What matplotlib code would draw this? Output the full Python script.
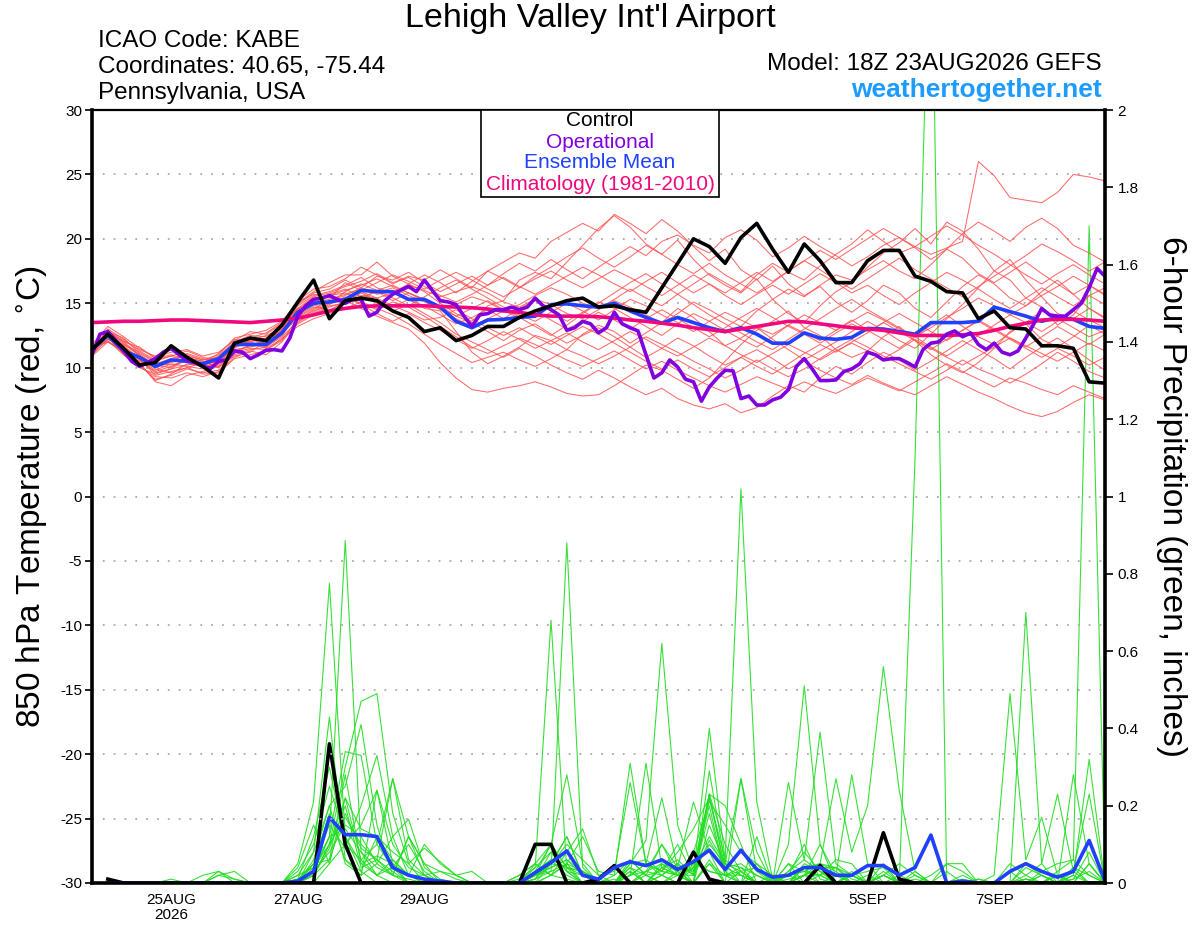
import numpy as np
import pandas as pd
import matplotlib
matplotlib.use('Agg')
import matplotlib.pyplot as plt
import matplotlib.patches as mpatches

plt.rcParams['font.family'] = ['Liberation Sans', 'DejaVu Sans']

# ---------------- data ----------------
init_time = '2026-08-23 18:00'
temp_hours = list(range(0, 385, 6))
oper_hours = list(range(0, 385, 3))
precip_hours = list(range(6, 385, 6))

control_temp = [11.4, 12.6, 11.5, 10.2, 10.4, 11.7, 10.8, 10.1, 9.2, 11.9, 12.3, 12.1, 13.3, 15.1, 16.8, 13.8, 15.2,
                15.4, 15.2, 14.4, 13.9, 12.8, 13.1, 12.1, 12.5, 13.2, 13.2, 13.9, 14.4, 14.8, 15.2, 15.4, 14.7,
                14.8, 14.5, 14.3, 16.2, 18.1, 20.0, 19.4, 18.1, 20.1, 21.2, 19.2, 17.4, 19.6, 18.3, 16.6, 16.6,
                18.3, 19.1, 19.1, 17.1, 16.7, 15.9, 15.8, 13.8, 14.4, 13.1, 13.0, 11.7, 11.7, 11.5, 8.9, 8.8]

mean_temp = [11.4, 12.5, 11.3, 10.8, 10.1, 10.6, 10.5, 10.3, 10.7, 11.8, 11.8, 11.8, 12.7, 14.3, 15.0, 15.1, 15.3,
             16.0, 15.9, 15.9, 15.3, 15.3, 14.7, 13.6, 13.1, 13.7, 13.75, 13.9, 14.0, 14.9, 14.95, 14.8, 14.7,
             15.0, 14.4, 13.9, 13.45, 13.9, 13.5, 13.1, 12.8, 13.1, 12.6, 11.9, 11.9, 12.7, 12.3, 12.2, 12.35,
             13.05, 13.0, 12.8, 12.6, 13.5, 13.5, 13.5, 13.6, 14.7, 14.35, 14.0, 13.6, 13.9, 13.75, 13.2, 13.05]

clim_temp = [13.5, 13.55, 13.6, 13.6, 13.65, 13.7, 13.7, 13.65, 13.6, 13.55, 13.5, 13.6, 13.7, 13.85, 14.1, 14.4, 14.6,
             14.75, 14.8, 14.8, 14.8, 14.8, 14.75, 14.7, 14.65, 14.55, 14.4, 14.3, 14.1, 14.0, 14.0, 14.0, 13.95,
             13.85, 13.7, 13.6, 13.45, 13.3, 13.1, 12.95, 12.8, 13.0, 13.2, 13.4, 13.6, 13.55, 13.4, 13.25, 13.1,
             13.0, 12.9, 12.7, 12.5, 12.5, 12.5, 12.55, 12.65, 12.9, 13.2, 13.45, 13.7, 13.75, 13.75, 13.7, 13.6]

oper_temp = [11.0, 12.6, 12.8, 12.1, 11.3, 10.5, 10.1, 10.4, 10.7, 11.2, 11.5, 11.0, 10.6, 10.4, 10.1, 9.95,
             10.5, 10.6, 11.3, 11.2, 10.7, 11.0, 11.35, 11.4, 11.3, 12.3, 14.0, 14.8, 15.3, 15.4, 15.6, 15.3,
             15.0, 15.3, 15.3, 14.0, 14.3, 15.2, 15.7, 16.0, 16.3, 15.9, 16.8, 16.0, 15.2, 15.1, 14.9, 14.0,
             13.2, 14.1, 14.2, 14.5, 14.5, 14.7, 14.5, 14.7, 15.4, 14.8, 14.5, 14.1, 12.9, 13.1, 13.6, 13.4,
             12.7, 13.1, 14.3, 13.4, 13.1, 12.85, 11.0, 9.2, 9.6, 10.6, 10.05, 9.1, 8.9, 7.4, 8.5, 9.2,
             9.8, 9.75, 7.6, 7.8, 7.1, 7.1, 7.5, 7.7, 8.3, 10.1, 10.7, 9.9, 9.0, 9.0, 9.05, 9.7,
             9.9, 10.3, 11.2, 11.0, 10.6, 10.7, 10.7, 10.4, 10.05, 11.4, 11.9, 12.0, 12.6, 12.85, 12.4, 12.7,
             11.8, 11.4, 11.9, 11.2, 11.0, 11.3, 12.3, 13.4, 14.6, 14.1, 14.0, 14.0, 14.5, 15.0, 16.2, 17.7,
             17.1]

# ensemble members, 850 hPa temperature
t_m01 = [11.2, 12.9, 12.0, 11.0, 10.2, 10.0, 10.8, 10.5, 10.0, 11.5, 12.2, 12.0, 13.0, 14.8, 15.6, 15.9, 16.4,
         17.0, 16.2, 15.8, 16.5, 15.9, 15.0, 14.2, 13.6, 14.8, 15.2, 16.8, 17.4, 16.9, 18.2, 19.5, 20.8,
         21.8, 20.9, 19.6, 18.8, 19.9, 18.4, 17.2, 16.4, 15.8, 16.9, 15.3, 14.2, 13.5, 14.8, 15.9, 16.6,
         17.8, 18.9, 19.7, 20.8, 19.6, 21.3, 20.6, 19.2, 17.5, 18.4, 16.8, 15.5, 14.2, 13.8, 14.6, 13.9]
t_m02 = [11.0, 12.2, 11.6, 10.2, 9.1, 9.4, 9.9, 9.6, 9.8, 11.0, 11.4, 11.6, 12.4, 13.6, 14.2, 14.8, 15.0,
         15.6, 15.4, 15.8, 15.3, 14.6, 14.4, 12.8, 11.2, 10.3, 10.9, 11.6, 12.5, 12.1, 11.4, 12.6, 13.3,
         12.8, 11.9, 12.7, 13.5, 14.6, 13.9, 12.8, 11.7, 12.3, 13.1, 12.2, 11.4, 10.6, 11.3, 12.0, 12.8,
         13.6, 12.9, 12.1, 11.5, 12.6, 13.8, 14.9, 16.2, 17.5, 16.8, 15.4, 14.7, 13.3, 14.1, 15.6, 16.2]
t_m03 = [11.5, 12.0, 11.3, 10.4, 8.9, 8.6, 9.4, 9.7, 10.1, 10.9, 11.2, 12.1, 13.2, 14.6, 14.9, 14.4, 15.2,
         14.6, 14.0, 13.5, 13.0, 11.9, 10.4, 9.2, 8.3, 8.1, 8.4, 8.6, 8.9, 8.5, 8.0, 7.8, 7.9,
         8.6, 9.4, 10.2, 9.8, 9.1, 8.4, 9.2, 10.5, 11.8, 12.9, 13.6, 14.4, 13.1, 12.5, 11.4, 10.8,
         11.3, 12.4, 13.2, 12.1, 11.0, 10.2, 9.6, 10.4, 11.5, 12.8, 13.4, 12.2, 11.6, 12.4, 13.3, 12.6]
t_m04 = [11.8, 13.2, 12.4, 11.5, 10.8, 11.2, 11.4, 10.9, 11.2, 12.1, 12.8, 12.6, 13.4, 15.2, 16.1, 16.3, 16.9,
         17.8, 17.2, 16.5, 17.1, 16.8, 17.6, 16.9, 16.2, 17.5, 18.2, 18.9, 18.5, 19.8, 20.5, 21.2, 20.6,
         21.9, 21.2, 20.4, 21.5, 20.6, 19.4, 18.3, 19.2, 17.6, 16.8, 17.9, 16.5, 15.6, 16.3, 15.1, 14.3,
         15.2, 16.4, 15.8, 14.6, 13.9, 15.1, 16.3, 17.2, 16.5, 15.4, 14.8, 15.9, 16.8, 15.7, 14.6, 13.8]
t_m05 = [11.3, 12.6, 11.8, 11.2, 10.5, 10.9, 11.3, 10.8, 10.6, 11.9, 12.0, 12.3, 13.1, 14.5, 15.4, 15.6, 16.0,
         16.4, 16.9, 16.3, 15.8, 15.2, 14.6, 14.9, 15.5, 15.1, 14.4, 14.9, 15.6, 16.2, 15.7, 15.0, 14.6,
         15.3, 16.1, 15.4, 14.8, 15.7, 16.5, 17.3, 16.6, 15.9, 17.2, 18.1, 17.4, 16.8, 17.9, 18.8, 19.6,
         20.7, 19.8, 18.9, 19.4, 18.8, 19.3, 19.8, 26.0, 24.9, 23.2, 23.0, 22.8, 23.6, 25.0, 24.8, 24.5]
t_m06 = [11.0, 12.4, 11.5, 10.6, 9.8, 10.3, 10.1, 9.9, 10.4, 11.4, 11.6, 11.9, 12.6, 13.9, 14.6, 15.2, 15.6,
         16.2, 15.7, 15.9, 16.4, 16.0, 15.5, 15.9, 16.3, 15.8, 15.1, 14.7, 15.3, 14.9, 14.2, 13.8, 14.5,
         15.2, 14.7, 14.1, 13.4, 14.2, 15.1, 14.5, 13.8, 13.2, 14.4, 15.3, 16.1, 15.5, 16.4, 17.2, 16.8,
         17.6, 18.3, 17.5, 16.9, 18.0, 19.2, 20.4, 21.3, 20.6, 19.8, 20.9, 21.6, 20.8, 19.5, 18.9, 18.2]
t_m07 = [11.6, 12.1, 11.0, 10.0, 9.5, 9.9, 10.2, 10.4, 10.9, 12.0, 11.9, 11.5, 12.2, 13.4, 14.1, 14.7, 15.1,
         15.5, 15.0, 14.4, 14.9, 14.2, 13.5, 12.6, 12.0, 11.4, 10.8, 11.5, 10.9, 10.2, 9.6, 9.1, 9.8,
         9.2, 8.5, 7.9, 8.4, 7.6, 7.1, 6.8, 7.2, 6.5, 6.9, 7.8, 8.6, 8.1, 9.2, 10.1, 9.5,
         10.4, 11.2, 10.6, 9.8, 10.5, 11.3, 12.1, 11.4, 10.7, 9.9, 10.8, 11.6, 12.3, 11.5, 10.6, 9.8]
t_m08 = [11.1, 12.7, 11.9, 10.9, 10.0, 10.4, 10.7, 10.2, 10.5, 11.6, 12.2, 11.8, 12.9, 14.1, 14.8, 15.6, 15.8,
         15.3, 16.0, 16.4, 15.8, 15.3, 14.8, 14.0, 13.5, 12.8, 12.1, 12.9, 13.4, 12.6, 11.9, 12.5, 13.1,
         12.4, 11.6, 10.8, 11.5, 12.3, 11.7, 10.9, 10.2, 10.8, 11.4, 10.7, 9.9, 10.5, 9.8, 9.2, 8.7,
         9.4, 8.8, 8.3, 7.9, 8.6, 9.3, 8.7, 8.1, 7.6, 7.0, 6.5, 6.2, 6.6, 7.3, 7.9, 7.5]
t_m09 = [11.4, 13.0, 12.2, 11.3, 10.6, 10.9, 10.4, 10.1, 10.8, 12.0, 12.5, 12.4, 13.2, 14.9, 15.8, 16.1, 16.8,
         16.2, 17.1, 16.8, 17.4, 16.6, 15.9, 16.5, 17.1, 16.4, 17.3, 18.1, 17.5, 18.4, 17.6, 16.9, 17.8,
         18.6, 19.4, 18.7, 19.8, 20.3, 19.5, 18.9, 20.1, 20.7, 19.9, 18.6, 19.3, 20.2, 19.4, 18.7, 17.9,
         18.6, 19.5, 20.1, 19.3, 18.4, 19.2, 18.5, 17.3, 16.6, 17.4, 18.2, 17.3, 16.5, 15.7, 16.4, 15.6]
t_m10 = [11.7, 12.3, 11.1, 10.5, 9.7, 10.1, 10.6, 10.0, 10.2, 11.3, 11.7, 12.2, 12.8, 14.0, 14.7, 14.5, 15.0,
         15.8, 15.2, 14.7, 15.3, 14.8, 14.1, 13.4, 13.9, 14.5, 13.8, 14.6, 15.2, 14.4, 13.6, 14.3, 15.1,
         14.6, 13.9, 13.2, 12.5, 13.4, 14.2, 13.6, 12.9, 12.2, 11.6, 12.4, 13.3, 12.7, 12.1, 12.9, 13.7,
         12.9, 12.2, 11.5, 12.4, 13.3, 14.1, 13.2, 12.4, 11.8, 12.7, 13.5, 14.4, 13.8, 13.1, 12.4, 12.9]
t_m11 = [11.2, 12.5, 11.7, 10.7, 9.4, 9.7, 10.0, 9.5, 9.6, 10.7, 11.0, 11.3, 12.3, 13.2, 13.8, 14.2, 14.6,
         15.1, 14.6, 14.1, 13.4, 12.6, 11.8, 11.1, 10.4, 10.8, 11.2, 10.6, 10.1, 10.7, 11.4, 10.9, 10.3,
         10.9, 11.6, 12.4, 11.8, 11.2, 10.5, 9.9, 9.2, 9.8, 10.6, 9.9, 9.3, 9.9, 10.7, 11.5, 12.2,
         11.6, 10.9, 10.3, 9.7, 9.1, 9.8, 10.6, 9.9, 9.4, 8.8, 9.5, 10.3, 11.2, 10.5, 9.7, 9.2]
t_m12 = [11.5, 12.8, 12.1, 11.4, 10.9, 11.4, 11.0, 10.6, 11.0, 12.3, 12.6, 12.9, 13.6, 15.0, 15.9, 16.6, 17.2,
         17.2, 18.2, 17.1, 16.5, 17.2, 16.6, 15.8, 16.7, 17.5, 16.9, 16.2, 17.1, 17.8, 18.6, 19.3, 18.5,
         17.8, 18.6, 19.5, 18.8, 18.0, 17.3, 18.1, 17.2, 16.5, 15.8, 16.6, 17.5, 18.3, 17.6, 16.8, 16.1,
         16.9, 17.7, 18.5, 17.6, 16.9, 16.2, 15.5, 16.3, 17.1, 17.9, 18.7, 19.6, 19.0, 18.3, 17.5, 18.2]
t_m13 = [11.3, 12.6, 11.4, 10.9, 10.3, 10.7, 10.9, 10.6, 10.8, 11.7, 11.9, 11.7, 12.5, 14.2, 15.1, 15.3, 15.7,
         16.1, 15.8, 16.2, 15.6, 15.1, 14.5, 13.8, 13.2, 13.8, 14.4, 14.1, 13.6, 14.3, 15.0, 14.4, 13.7,
         14.5, 15.3, 14.8, 14.1, 13.5, 12.8, 13.6, 14.3, 13.7, 13.1, 12.6, 13.3, 14.1, 13.5, 12.9, 13.6,
         14.3, 13.7, 13.0, 12.4, 13.1, 13.9, 14.6, 15.4, 14.8, 14.1, 13.5, 12.8, 13.6, 14.4, 13.7, 13.1]
t_m14 = [10.9, 12.0, 11.2, 10.1, 9.3, 9.2, 9.6, 9.3, 9.7, 10.8, 11.3, 11.0, 12.0, 13.5, 14.3, 15.0, 15.4,
         15.0, 14.5, 15.1, 14.7, 14.0, 13.2, 12.4, 11.6, 11.1, 11.7, 12.3, 11.8, 11.2, 10.6, 10.1, 10.7,
         11.3, 10.6, 9.9, 10.5, 9.8, 9.2, 8.6, 8.1, 8.7, 9.3, 8.8, 8.3, 8.9, 8.4, 8.0, 8.6,
         9.2, 8.7, 8.2, 8.9, 9.6, 10.3, 9.7, 9.1, 8.5, 9.2, 8.8, 8.3, 7.9, 8.6, 8.1, 7.6]
t_m15 = [11.0, 12.8, 12.3, 11.1, 10.4, 10.2, 10.5, 10.3, 10.6, 11.9, 12.4, 12.1, 13.3, 14.6, 15.5, 15.8, 16.3,
         16.7, 17.3, 16.6, 17.0, 16.3, 15.6, 15.1, 15.7, 16.4, 17.0, 16.3, 15.7, 16.4, 17.1, 17.8, 17.2,
         16.5, 15.9, 16.7, 17.4, 16.6, 15.8, 16.5, 15.6, 14.9, 15.7, 16.4, 15.7, 16.5, 17.3, 16.6, 15.8,
         16.4, 15.6, 14.9, 15.8, 16.6, 17.4, 16.8, 16.1, 15.3, 14.6, 15.4, 16.2, 15.5, 14.8, 15.6, 14.9]
t_m16 = [11.6, 12.4, 11.0, 10.3, 9.0, 9.5, 10.3, 10.1, 10.3, 11.2, 11.5, 11.4, 12.1, 13.8, 14.4, 14.9, 15.5,
         14.9, 14.2, 13.6, 14.2, 13.5, 12.9, 12.2, 11.5, 12.1, 12.8, 12.2, 11.5, 12.1, 12.7, 12.0, 11.4,
         12.1, 12.8, 12.2, 11.5, 10.9, 11.6, 12.3, 11.7, 11.0, 10.4, 11.1, 11.8, 11.2, 10.6, 11.3, 11.9,
         11.3, 10.7, 11.4, 12.2, 11.5, 10.8, 10.2, 10.9, 11.6, 12.3, 11.7, 11.1, 10.5, 11.2, 11.9, 11.3]
t_m17 = [11.4, 12.2, 11.8, 11.0, 10.1, 10.5, 11.1, 10.7, 10.4, 11.6, 12.1, 12.5, 13.0, 14.4, 15.2, 15.0, 15.9,
         16.5, 16.0, 15.4, 14.8, 15.5, 16.2, 16.8, 16.1, 15.4, 14.7, 13.9, 13.2, 12.5, 13.3, 14.2, 15.0,
         15.8, 16.6, 17.3, 16.5, 15.7, 14.9, 14.1, 13.4, 12.7, 12.0, 11.4, 12.2, 13.0, 13.8, 14.6, 15.3,
         14.5, 13.8, 13.1, 12.4, 11.6, 10.9, 11.7, 12.5, 13.3, 14.1, 14.8, 15.6, 16.3, 17.1, 16.4, 15.7]
t_m18 = [11.2, 12.9, 11.6, 10.8, 9.9, 9.6, 10.0, 10.4, 11.1, 12.2, 12.0, 11.6, 12.6, 14.3, 15.0, 15.7, 16.1,
         15.5, 15.9, 15.2, 15.8, 15.3, 14.6, 14.0, 14.6, 15.2, 14.5, 13.8, 14.4, 13.7, 13.0, 13.6, 14.3,
         13.7, 13.0, 13.8, 14.5, 13.8, 13.1, 12.4, 13.1, 13.9, 14.6, 13.9, 13.2, 12.6, 11.9, 12.7, 13.4,
         12.8, 13.5, 14.2, 13.5, 12.8, 12.1, 12.9, 13.6, 12.9, 12.2, 11.5, 10.8, 11.5, 10.9, 10.2, 10.8]
t_m19 = [11.3, 12.7, 12.0, 11.6, 10.7, 11.0, 10.6, 10.2, 10.5, 11.8, 12.3, 12.7, 13.5, 15.1, 15.7, 15.4, 16.6,
         16.0, 16.6, 17.2, 16.7, 16.1, 16.8, 17.4, 16.8, 16.1, 15.5, 16.2, 16.9, 17.5, 16.8, 16.2, 16.9,
         17.6, 17.0, 16.3, 15.6, 16.4, 17.2, 16.5, 15.8, 16.6, 17.4, 16.7, 17.5, 18.3, 19.1, 18.4, 19.2,
         20.0, 20.8, 20.1, 19.4, 20.2, 21.0, 20.3, 19.5, 18.8, 18.0, 17.2, 16.5, 17.3, 18.0, 17.2, 16.5]
t_m20 = [11.7, 12.0, 11.4, 10.6, 9.6, 9.9, 10.7, 10.5, 10.0, 11.1, 11.8, 12.0, 12.9, 13.7, 14.5, 15.1, 15.3,
         15.9, 15.4, 14.8, 14.3, 13.7, 13.9, 14.5, 13.8, 13.1, 12.5, 13.1, 12.4, 11.8, 12.5, 13.2, 12.6,
         11.9, 11.2, 10.5, 9.9, 10.6, 9.9, 9.3, 10.0, 10.8, 10.1, 9.5, 10.3, 11.1, 11.8, 11.2, 12.0,
         12.7, 13.5, 12.8, 12.1, 11.4, 12.2, 12.9, 13.7, 13.0, 12.3, 11.6, 12.4, 13.2, 12.5, 11.8, 12.6]

# 6-hour precipitation (inches), hours 6..384
control_precip = [0.01, 0, 0, 0, 0, 0, 0, 0, 0, 0, 0, 0, 0, 0, 0.36, 0.10,
                  0, 0, 0, 0, 0, 0, 0, 0, 0, 0, 0, 0.10, 0.10, 0, 0, 0.01,
                  0.045, 0, 0, 0, 0, 0.08, 0.01, 0, 0, 0, 0, 0, 0, 0.045, 0, 0,
                  0, 0.13, 0.01, 0, 0, 0, 0, 0, 0, 0, 0, 0, 0, 0, 0, 0]
mean_precip = [0, 0, 0, 0, 0, 0, 0, 0, 0, 0, 0, 0, 0.005, 0.03, 0.17, 0.125,
               0.125, 0.12, 0.04, 0.02, 0.01, 0.005, 0, 0, 0, 0, 0, 0.027, 0.053, 0.083, 0.02, 0.01,
               0.04, 0.055, 0.045, 0.06, 0.035, 0.055, 0.085, 0.035, 0.085, 0.035, 0.015, 0.02, 0.04, 0.04, 0.02, 0.02,
               0.045, 0.045, 0.02, 0.04, 0.124, 0, 0.005, 0, 0, 0.03, 0.05, 0.03, 0.015, 0.03, 0.11, 0.005]

p_m01 = [0, 0, 0, 0, 0, 0, 0, 0, 0, 0, 0, 0, 0.05, 0.21, 0.775, 0.12,
         0.03, 0, 0, 0, 0, 0, 0, 0, 0, 0, 0, 0.02, 0.05, 0.12, 0.02, 0,
         0, 0.06, 0.02, 0.1, 0.04, 0.21, 0.08, 0, 0.03, 0, 0, 0, 0.04, 0, 0, 0,
         0, 0.02, 0, 0, 0, 0, 0, 0, 0, 0.05, 0.02, 0, 0.03, 0.06, 0.02, 0]
p_m02 = [0, 0, 0, 0, 0, 0, 0, 0, 0, 0, 0, 0, 0, 0.04, 0.12, 0.886,
         0.08, 0.02, 0, 0, 0, 0, 0, 0, 0, 0, 0.01, 0.04, 0.68, 0.03, 0, 0,
         0, 0, 0, 0.02, 0, 0.04, 0.23, 0.03, 0, 0, 0.02, 0, 0.02, 0, 0.02, 0,
         0, 0, 0, 0, 0, 0, 0, 0, 0, 0, 0.04, 0.02, 0, 0.01, 0.03, 0]
p_m03 = [0, 0, 0, 0, 0, 0, 0, 0, 0, 0, 0, 0, 0.02, 0.08, 0.43, 0.06,
         0.02, 0.24, 0.05, 0, 0, 0, 0, 0, 0, 0, 0, 0.01, 0.03, 0.88, 0.04, 0,
         0.01, 0, 0.03, 0.05, 0.02, 0, 0.06, 0, 0.27, 0.03, 0, 0.05, 0, 0.02, 0, 0,
         0, 0, 0, 0, 0.02, 0.05, 0.03, 0, 0, 0, 0, 0, 0, 0, 0, 0]
p_m04 = [0, 0, 0, 0, 0, 0, 0, 0.02, 0.01, 0, 0, 0, 0, 0.02, 0.1, 0.3,
         0.47, 0.49, 0.18, 0.05, 0, 0, 0, 0, 0, 0, 0, 0.03, 0.06, 0.04, 0, 0,
         0, 0.05, 0.11, 0.62, 0.15, 0.03, 0.2, 0.02, 0, 0.05, 0, 0, 0.02, 0.1, 0, 0,
         0, 0, 0, 0, 0, 0, 0, 0.01, 0, 0.03, 0, 0, 0.02, 0, 0.05, 0]
p_m05 = [0, 0, 0, 0, 0, 0, 0, 0, 0, 0, 0, 0, 0, 0.06, 0.2, 0.25,
         0.41, 0.15, 0.02, 0, 0, 0, 0, 0, 0, 0, 0.02, 0.05, 0.02, 0.01, 0, 0,
         0, 0.02, 0.05, 0.03, 0.08, 0.14, 0.22, 0.06, 1.02, 0.21, 0.01, 0, 0, 0.05, 0.03, 0,
         0.02, 0, 0, 0, 0, 0, 0, 0, 0, 0, 0.02, 0.05, 0, 0, 0, 0]
p_m06 = [0, 0, 0, 0, 0, 0, 0, 0, 0, 0, 0, 0, 0, 0.03, 0.12, 0.34,
         0.33, 0.1, 0.27, 0.06, 0.02, 0, 0, 0, 0, 0, 0, 0.02, 0.04, 0.06, 0.02, 0,
         0, 0.03, 0, 0.04, 0.06, 0.02, 0.11, 0.04, 0.05, 0.02, 0, 0.1, 0.51, 0.1, 0.02, 0,
         0, 0.03, 0, 0, 0, 0, 0, 0, 0, 0, 0.01, 0, 0, 0.04, 0, 0]
p_m07 = [0, 0, 0, 0, 0, 0, 0, 0, 0, 0, 0, 0, 0.01, 0.05, 0.15, 0.09,
         0.2, 0.33, 0.12, 0.165, 0.04, 0.01, 0, 0, 0, 0, 0, 0.03, 0.1, 0.28, 0.05, 0,
         0, 0, 0.02, 0, 0, 0.05, 0.03, 0.02, 0, 0.12, 0, 0.03, 0.06, 0.39, 0.05, 0.02,
         0, 0, 0, 0, 0, 0, 0, 0, 0, 0, 0, 0.02, 0, 0.03, 0.23, 0]
p_m08 = [0, 0, 0, 0, 0, 0, 0.02, 0.03, 0.01, 0, 0, 0, 0, 0.02, 0.06, 0.18,
         0.09, 0.06, 0.27, 0.12, 0.05, 0, 0, 0, 0, 0, 0, 0, 0.02, 0.05, 0.12, 0.03,
         0.02, 0.31, 0.05, 0.03, 0.02, 0, 0.29, 0.05, 0, 0, 0, 0, 0.04, 0.05, 0.27, 0.08,
         0.2, 0.56, 0.24, 0.03, 0, 0, 0, 0, 0, 0, 0, 0, 0.02, 0, 0, 0]
p_m09 = [0, 0, 0, 0, 0, 0, 0, 0, 0, 0, 0, 0, 0, 0.03, 0.08, 0.15,
         0.12, 0.05, 0.02, 0.12, 0.02, 0, 0, 0, 0, 0, 0, 0.02, 0.04, 0.06, 0.03, 0,
         0, 0.02, 0.31, 0.04, 0.02, 0, 0.05, 0.02, 0.04, 0, 0, 0, 0.02, 0.02, 0, 0,
         0, 0.05, 0, 1.1, 2.6, 0, 0.02, 0, 0, 0, 0, 0, 0, 0.02, 0, 0]
p_m10 = [0, 0, 0, 0, 0, 0, 0, 0, 0, 0, 0, 0, 0.03, 0.1, 0.25, 0.12,
         0.05, 0.02, 0.06, 0.02, 0, 0, 0, 0, 0, 0, 0, 0.04, 0.08, 0.03, 0, 0,
         0, 0, 0.03, 0.02, 0.05, 0.02, 0.4, 0.06, 0.02, 0, 0, 0.26, 0.06, 0.03, 0, 0.02,
         0, 0, 0.02, 0, 0, 0, 0, 0, 0.02, 0.49, 0.06, 0.17, 0.02, 0, 0.05, 0]
p_m11 = [0, 0, 0, 0, 0, 0, 0, 0, 0, 0, 0, 0, 0, 0.05, 0.18, 0.06,
         0.03, 0.12, 0.08, 0.05, 0.09, 0.055, 0.02, 0.03, 0, 0, 0, 0.01, 0.05, 0.12, 0.02, 0,
         0, 0, 0, 0.05, 0.03, 0, 0.23, 0.1, 0.03, 0.04, 0, 0, 0.05, 0.03, 0.02, 0.28,
         0.05, 0, 0, 0.02, 0, 0, 0, 0, 0, 0, 0.70, 0.05, 0.23, 0.03, 0, 0]
p_m12 = [0, 0, 0, 0, 0, 0, 0, 0, 0, 0, 0, 0, 0, 0.02, 0.09, 0.2,
         0.04, 0.06, 0.03, 0, 0, 0, 0, 0, 0, 0, 0, 0, 0.05, 0.1, 0.06, 0.02,
         0.03, 0.26, 0.05, 0.22, 0.04, 0.03, 0.1, 0.05, 0.03, 0, 0, 0, 0.02, 0.04, 0, 0.03,
         0, 0.02, 0.05, 0.02, 0, 0.05, 0.05, 0, 0, 0, 0, 0.03, 0.05, 0.06, 1.70, 0.02]
p_m13 = [0, 0, 0, 0, 0, 0, 0, 0.02, 0.03, 0, 0, 0, 0.04, 0.15, 0.05, 0.1,
         0.15, 0.24, 0.1, 0.04, 0.02, 0, 0, 0, 0, 0, 0.02, 0.05, 0.02, 0.08, 0.14, 0.02,
         0, 0.04, 0, 0.04, 0.02, 0.08, 0.21, 0.15, 0.08, 0.05, 0.02, 0.02, 0.03, 0.02, 0.04, 0,
         0, 0, 0, 0.01, 0, 0, 0, 0, 0, 0, 0, 0, 0, 0.02, 0.32, 0]
p_m14 = [0, 0, 0, 0, 0, 0, 0, 0, 0, 0, 0, 0, 0, 0, 0.05, 0.22,
         0.06, 0.1, 0.04, 0.1, 0.03, 0, 0, 0, 0, 0, 0, 0.02, 0.1, 0.04, 0.03, 0,
         0, 0.05, 0.06, 0.03, 0.02, 0.02, 0.23, 0.2, 0.1, 0, 0, 0.05, 0.03, 0.02, 0.06, 0.05,
         0, 0.02, 0, 0, 0, 0.03, 0, 0.01, 0, 0, 0.05, 0.02, 0, 0.28, 0.05, 0]
p_m15 = [0, 0, 0, 0, 0.01, 0, 0, 0, 0, 0, 0, 0, 0, 0.08, 0.2, 0.05,
         0.02, 0.05, 0.12, 0.02, 0, 0, 0, 0, 0, 0, 0, 0.03, 0.06, 0.02, 0, 0,
         0, 0.02, 0.03, 0.1, 0.02, 0, 0.15, 0.05, 0.27, 0.08, 0, 0.01, 0.02, 0.04, 0.04, 0.02,
         0, 0, 0, 0, 0, 0, 0, 0, 0, 0, 0, 0, 0, 0, 0, 0]
p_m16 = [0, 0, 0, 0, 0, 0, 0, 0, 0, 0, 0, 0, 0.02, 0.04, 0.1, 0.17,
         0.1, 0.06, 0.02, 0.01, 0, 0, 0, 0, 0, 0, 0, 0.01, 0.08, 0.03, 0.02, 0,
         0.02, 0.06, 0.02, 0.03, 0.1, 0.02, 0.18, 0.02, 0.02, 0, 0, 0.03, 0.08, 0.03, 0, 0.02,
         0.03, 0.04, 0, 0, 0, 0, 0, 0, 0, 0, 0, 0.02, 0, 0.01, 0.08, 0]
p_m17 = [0, 0, 0, 0, 0, 0, 0, 0, 0, 0, 0, 0, 0.01, 0.12, 0.3, 0.1,
         0.06, 0.02, 0.04, 0, 0, 0, 0, 0, 0, 0, 0, 0, 0.02, 0.05, 0, 0,
         0, 0, 0, 0.02, 0.05, 0, 0.05, 0, 0, 0.02, 0, 0, 0.02, 0.05, 0, 0,
         0, 0, 0, 0, 0, 0, 0, 0, 0, 0, 0, 0, 0, 0, 0, 0]
p_m18 = [0, 0, 0, 0, 0, 0, 0, 0, 0, 0, 0, 0, 0, 0.02, 0.1, 0.22,
         0.14, 0.12, 0.06, 0.02, 0.02, 0.03, 0.02, 0, 0, 0, 0, 0.02, 0.05, 0.04, 0.02, 0,
         0, 0.02, 0.05, 0.02, 0, 0.06, 0.03, 0.02, 0.03, 0, 0, 0.02, 0, 0.05, 0, 0.02,
         0, 0.02, 0, 0.03, 0, 0, 0.01, 0, 0, 0, 0.01, 0, 0.02, 0, 0, 0]
p_m19 = [0, 0, 0, 0, 0, 0, 0, 0, 0, 0, 0, 0, 0, 0.05, 0.06, 0.28,
         0.05, 0.07, 0.05, 0.02, 0.1, 0.05, 0.02, 0, 0, 0, 0, 0.05, 0.1, 0.04, 0.03, 0.01,
         0, 0.03, 0, 0, 0.02, 0.04, 0.12, 0.05, 0.04, 0.02, 0, 0.02, 0.1, 0.01, 0, 0,
         0, 0, 0, 0, 0, 0, 0, 0, 0, 0, 0, 0, 0, 0, 0, 0]
p_m20 = [0, 0, 0, 0, 0, 0, 0, 0.03, 0, 0, 0, 0, 0, 0.03, 0.12, 0.14,
         0.08, 0.04, 0.02, 0.12, 0.05, 0.03, 0.01, 0, 0, 0, 0, 0.02, 0.03, 0.05, 0.03, 0,
         0, 0.04, 0.02, 0, 0.03, 0, 0.22, 0.04, 0.02, 0, 0, 0.02, 0.03, 0.05, 0.04, 0.01,
         0, 0.02, 0, 0, 0, 0, 0, 0, 0, 0, 0.01, 0, 0, 0.04, 0.02, 0]

temp_members = [t_m01, t_m02, t_m03, t_m04, t_m05, t_m06, t_m07, t_m08, t_m09, t_m10,
                t_m11, t_m12, t_m13, t_m14, t_m15, t_m16, t_m17, t_m18, t_m19, t_m20]
precip_members = [p_m01, p_m02, p_m03, p_m04, p_m05, p_m06, p_m07, p_m08, p_m09, p_m10,
                  p_m11, p_m12, p_m13, p_m14, p_m15, p_m16, p_m17, p_m18, p_m19, p_m20]

tick_dates = ['2026-08-25', '2026-08-27', '2026-08-29', '2026-09-01',
              '2026-09-03', '2026-09-05', '2026-09-07']
tick_labels = ['25AUG\n2026', '27AUG', '29AUG', '1SEP', '3SEP', '5SEP', '7SEP']

temp_ticks = list(range(-30, 31, 5))
precip_ticks = [0, 0.2, 0.4, 0.6, 0.8, 1.0, 1.2, 1.4, 1.6, 1.8, 2.0]
precip_tick_labels = ['0', '0.2', '0.4', '0.6', '0.8', '1', '1.2', '1.4', '1.6', '1.8', '2']

legend_labels = ['Control', 'Operational', 'Ensemble Mean', 'Climatology (1981-2010)']

# ---------------- colours ----------------
C_CTRL = 'black'
C_OPER = '#8000e0'
C_MEAN = '#2040ff'
C_CLIM = '#f0087f'
C_MEMB_T = '#ff5050'
C_MEMB_P = '#22dd22'


def to_times(hours):
    t0 = pd.Timestamp(init_time)
    return (t0 + pd.to_timedelta(hours, unit='h')).to_pydatetime()


t_temp = to_times(temp_hours)
t_oper = to_times(oper_hours)
t_prec = to_times(precip_hours)

W, H = 1200, 927
fig = plt.figure(figsize=(W / 100, H / 100), dpi=100)
L, R, T, B = 92, 1105, 110, 883
ax1 = fig.add_axes([L / W, 1 - B / H, (R - L) / W, (B - T) / H])
ax2 = ax1.twinx()
ax1.set_zorder(ax2.get_zorder() + 1)
ax1.patch.set_visible(False)

# precipitation (right axis)
for m in precip_members:
    ax2.plot(t_prec, m, color=C_MEMB_P, lw=0.8, alpha=0.9, zorder=2)
ax2.plot(t_prec, control_precip, color=C_CTRL, lw=2.6, zorder=4)
ax2.plot(t_prec, mean_precip, color=C_MEAN, lw=2.6, zorder=5)

# temperature (left axis)
for m in temp_members:
    ax1.plot(t_temp, m, color=C_MEMB_T, lw=0.75, alpha=0.85, zorder=2)
ax1.plot(t_temp, mean_temp, color=C_MEAN, lw=2.6, zorder=4)
ax1.plot(t_temp, clim_temp, color=C_CLIM, lw=2.6, zorder=5)
ax1.plot(t_oper, oper_temp, color=C_OPER, lw=2.6, zorder=6)
ax1.plot(t_temp, control_temp, color=C_CTRL, lw=2.6, zorder=7)

x0 = pd.Timestamp(init_time).to_pydatetime()
x1 = to_times([384])[0]
ax1.set_xlim(x0, x1)
ax1.set_ylim(-30, 30)
ax2.set_ylim(0, 2)

ax1.set_yticks(temp_ticks)
ax1.set_yticklabels([str(v) for v in temp_ticks])
ax2.set_yticks(precip_ticks)
ax2.set_yticklabels(precip_tick_labels)
ax1.set_xticks([pd.Timestamp(d).to_pydatetime() for d in tick_dates])
ax1.set_xticklabels(tick_labels, linespacing=1.1)

ax1.yaxis.grid(True, color='#aaaaaa', lw=1.3, linestyle=(0, (1, 5)))
ax1.set_axisbelow(True)

ax1.tick_params(axis='y', length=5, width=1.2, labelsize=11, pad=2)
ax1.tick_params(axis='x', length=0, labelsize=11, pad=7)
ax2.tick_params(axis='y', length=6, width=1.2, labelsize=11, pad=3)

for s in ax2.spines.values():
    s.set_visible(False)
ax1.spines['left'].set_linewidth(2.6)
ax1.spines['bottom'].set_linewidth(2.6)
ax1.spines['right'].set_linewidth(2.6)
ax1.spines['top'].set_linewidth(1.6)
for s in ax1.spines.values():
    s.set_zorder(10)

ax1.set_ylabel('850 hPa Temperature (red, $^{\\circ}$C)', fontsize=24, va='center')
ax1.yaxis.set_label_coords((32 - L) / (R - L), 0.5)
ax2.set_ylabel('6-hour Precipitation (green, inches)', fontsize=24, rotation=270, va='center')
ax2.yaxis.set_label_coords((1171 - L) / (R - L), 0.5)

# legend box
bx0, bx1, by0, by1 = 481, 719, 110, 197
ax1.add_patch(mpatches.Rectangle(((bx0 - L) / (R - L), (B - by1) / (B - T)),
                                 (bx1 - bx0) / (R - L), (by1 - by0) / (B - T),
                                 transform=ax1.transAxes, facecolor='white',
                                 edgecolor='black', lw=1.2, zorder=19, clip_on=False))
for lab, col, yp in zip(legend_labels, [C_CTRL, C_OPER, C_MEAN, C_CLIM], [121, 142, 163, 185]):
    ax1.text((600 - L) / (R - L), (B - yp) / (B - T), lab, transform=ax1.transAxes,
             ha='center', va='center', color=col, fontsize=15, zorder=20)


def ftext(x, y, s, **kw):
    fig.text(x / W, 1 - y / H, s, **kw)


ftext(590, 19, "Lehigh Valley Int'l Airport", ha='center', va='center', fontsize=24.5)
ftext(98, 41, 'ICAO Code: KABE', ha='left', va='center', fontsize=17.5)
ftext(98, 67, 'Coordinates: 40.65, -75.44', ha='left', va='center', fontsize=17.5)
ftext(98, 93, 'Pennsylvania, USA', ha='left', va='center', fontsize=17.5)
ftext(1102, 64, 'Model: 18Z 23AUG2026 GEFS', ha='right', va='center', fontsize=17.5)
ftext(1102, 90, 'weathertogether.net', ha='right', va='center', fontsize=19,
      fontweight='bold', color='#1e9bff')

fig.savefig('out.png', dpi=100)
